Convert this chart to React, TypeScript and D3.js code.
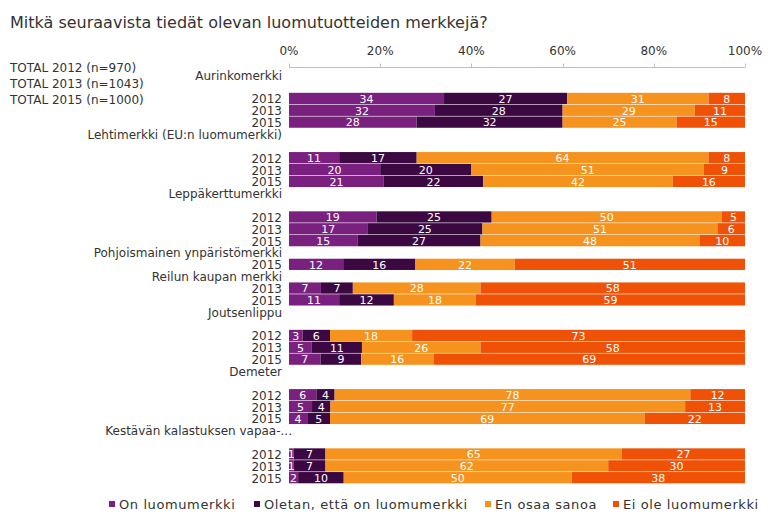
import React from "react";
import * as d3 from "d3";

const title = "Mitkä seuraavista tiedät olevan luomutuotteiden merkkejä?";
const totals = ["TOTAL 2012 (n=970)", "TOTAL 2013 (n=1043)", "TOTAL 2015 (n=1000)"];

const categories = [
  "Aurinkomerkki",
  "Lehtimerkki (EU:n luomumerkki)",
  "Leppäkerttumerkki",
  "Pohjoismainen ynpäristömerkki",
  "Reilun kaupan merkki",
  "Joutsenlippu",
  "Demeter",
  "Kestävän kalastuksen vapaa-...",
];

const years = [
  ["2012", "2013", "2015"],
  ["2012", "2013", "2015"],
  ["2012", "2013", "2015"],
  ["2015"],
  ["2013", "2015"],
  ["2012", "2013", "2015"],
  ["2012", "2013", "2015"],
  ["2012", "2013", "2015"],
];

const onLuomumerkki = [[34, 32, 28], [11, 20, 21], [19, 17, 15], [12], [7, 11], [3, 5, 7], [6, 5, 4], [1, 1, 2]];
const oletanEttaOn = [[27, 28, 32], [17, 20, 22], [25, 25, 27], [16], [7, 12], [6, 11, 9], [4, 4, 5], [7, 7, 10]];
const enOsaaSanoa = [[31, 29, 25], [64, 51, 42], [50, 51, 48], [22], [28, 18], [18, 26, 16], [78, 77, 69], [65, 62, 50]];
const eiOleLuomumerkki = [[8, 11, 15], [8, 9, 16], [5, 6, 10], [51], [58, 59], [73, 58, 69], [12, 13, 22], [27, 30, 38]];

const seriesNames = ["On luomumerkki", "Oletan, että on luomumerkki", "En osaa sanoa", "Ei ole luomumerkki"];
const tickValues = [0, 20, 40, 60, 80, 100];

const colors = ["#7a2180", "#3c0842", "#f6921e", "#ef5207"];
const FONT = "'DejaVu Sans', Verdana, sans-serif";
const TEXT = "#333333";

type Row = { id: string; kind: "label" | "spacer" | "bar"; label?: string; ci?: number; yi?: number };

const rows: Row[] = [];
categories.forEach((c, ci) => {
  rows.push({ id: `L${ci}`, kind: "label", label: c, ci });
  if (years[ci].length === 3) rows.push({ id: `S${ci}`, kind: "spacer" });
  years[ci].forEach((y, yi) => rows.push({ id: `B${ci}-${yi}`, kind: "bar", label: y, ci, yi }));
});

const seriesData = [onLuomumerkki, oletanEttaOn, enOsaaSanoa, eiOleLuomumerkki];
const barRows = rows.filter((r) => r.kind === "bar").map((r) => {
  const o: any = { id: r.id };
  seriesNames.forEach((s, si) => (o[s] = seriesData[si][r.ci!][r.yi!]));
  return o;
});

export default function App() {
  const W = 773, H = 526;
  const x = d3.scaleLinear().domain([0, 1]).range([289, 745]);
  const y = d3.scaleBand<string>().domain(rows.map((r) => r.id)).range([68.8, 483.6]).paddingInner(0.05).paddingOuter(0.025);
  const stacked = d3.stack<any>().keys(seriesNames).offset(d3.stackOffsetExpand)(barRows);
  const bw = y.bandwidth();

  const legendX = [109, 254, 485, 613];

  return (
    <svg width={W} height={H} style={{ position: "absolute", left: 0, top: 0, background: "#fff" }} fontFamily={FONT}>
      <rect width={W} height={H} fill="#fff" />
      <text x={10} y={28} fontSize={16} fill={TEXT}>{title}</text>
      {totals.map((t, i) => (
        <text key={t} x={10} y={71.5 + i * 16} fontSize={12} fill={TEXT}>{t}</text>
      ))}
      {/* axis */}
      <line x1={x(0)} x2={x(1)} y1={67.5} y2={67.5} stroke="#bfbfbf" />
      {tickValues.map((t) => (
        <g key={t}>
          <line x1={Math.round(x(t / 100)) + 0.5} x2={Math.round(x(t / 100)) + 0.5} y1={63.5} y2={67.5} stroke="#bfbfbf" />
          <text x={x(t / 100)} y={55} fontSize={12} fill={TEXT} textAnchor="middle">{t}%</text>
        </g>
      ))}
      {/* row labels */}
      {rows.filter((r) => r.kind !== "spacer").map((r) => {
        const cy = (y(r.id) as number) + bw / 2;
        const trunc = r.kind === "label" && r.label!.endsWith("...");
        return (
          <text key={"t" + r.id} x={trunc ? 292 : 282} y={cy + 5} fontSize={12} fill={TEXT} textAnchor="end">{r.label}</text>
        );
      })}
      {/* bars */}
      {stacked.map((s, si) => (
        <g key={s.key} fill={colors[si]}>
          {s.map((d) => {
            const id = d.data.id;
            const x0 = x(d[0]), x1 = x(d[1]);
            return <rect key={id} x={x0} y={y(id)} width={Math.max(0, x1 - x0)} height={bw} />;
          })}
        </g>
      ))}
      {stacked.map((s, si) => (
        <g key={"l" + s.key}>
          {s.map((d) => {
            const id = d.data.id;
            const x0 = x(d[0]), x1 = x(d[1]);
            const cy = (y(id) as number) + bw / 2;
            return (
              <text key={id} x={(x0 + x1) / 2} y={cy + 4.3} fontSize={11} fill="#fff" textAnchor="middle">
                {d.data[s.key]}
              </text>
            );
          })}
        </g>
      ))}
      {/* legend */}
      {seriesNames.map((n, i) => (
        <g key={n}>
          <rect x={legendX[i]} y={501} width={6} height={6} fill={colors[i]} />
          <text x={legendX[i] + 10} y={509} fontSize={13} letterSpacing={0.6} fill={TEXT}>{n}</text>
        </g>
      ))}
    </svg>
  );
}
